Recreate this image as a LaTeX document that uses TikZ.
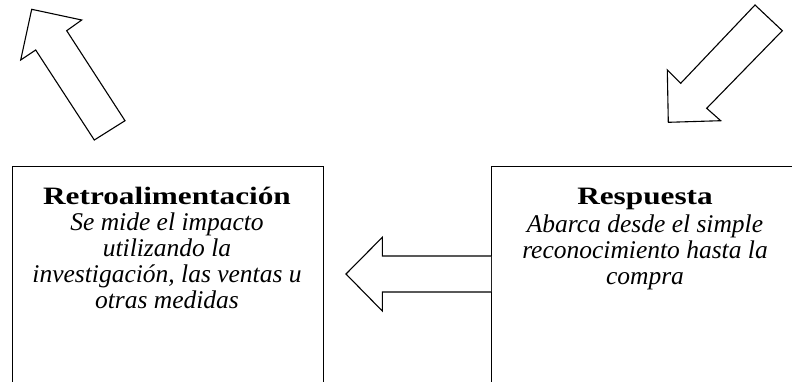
\documentclass[tikz,border=0pt]{standalone}
\usepackage{fontspec}
\setmainfont{Liberation Serif}
\newfontface\titlefont{Liberation Serif Bold}[FakeStretch=1.25]
\newfontface\bodyfont{Liberation Serif Italic}
\begin{document}
\begin{tikzpicture}[x=1pt,y=-1pt,line width=1.1pt,line join=miter,
  box/.style={draw,anchor=north west,inner sep=0pt,minimum height=260pt},
  ttl/.style={anchor=base,inner sep=0pt,font=\titlefont\fontsize{25}{26}\selectfont},
  txt/.style={anchor=base,inner sep=0pt,font=\bodyfont\fontsize{25.5}{26}\selectfont},
  bigarrow/.style={draw,fill=white}]
\useasboundingbox (0,0) rectangle (792,381);
\begin{scope}
\clip (0,0) rectangle (792,381);
% boxes
\node[box,minimum width=311pt] (lbox) at (11.7,166) {};
\node[box,minimum width=320pt] (rbox) at (491,166) {};
% left text
\node[ttl] (lt0) at (167,204) {Retroalimentación};
\node[txt] (lt1) at (167,230) {Se mide el impacto};
\node[txt] (lt2) at (167,256) {utilizando la};
\node[txt] (lt3) at (167,282) {investigación, las ventas u};
\node[txt] (lt4) at (167,308) {otras medidas};
% right text
\node[ttl] (rt0) at (645,204) {Respuesta};
\node[txt] (rt1) at (645,232.5) {Abarca desde el simple};
\node[txt] (rt2) at (645,258.5) {reconocimiento hasta la};
\node[txt] (rt3) at (645,284.5) {compra};
% middle arrow from Respuesta box to Retroalimentacion box
\draw[bigarrow] (rbox.north west |- 0,256) -- (382.3,256) -- (382.3,237.3) -- (346,274)
  -- (382.3,311) -- (382.3,292) -- (rbox.north west |- 0,292);
% top-left arrow
\draw[bigarrow] (31.7,9.3) -- (81.7,20) -- (66.7,30.7) -- (125,120.7) -- (94.3,140)
  -- (35.7,50) -- (20.7,60) -- cycle;
% top-right arrow
\draw[bigarrow] (755,5) -- (782.3,30.7) -- (706.7,108.3) -- (720.7,120.7)
  -- (668.3,122.3) -- (667.3,70) -- (680.7,83.3) -- cycle;
\end{scope}
\end{tikzpicture}
\end{document}
